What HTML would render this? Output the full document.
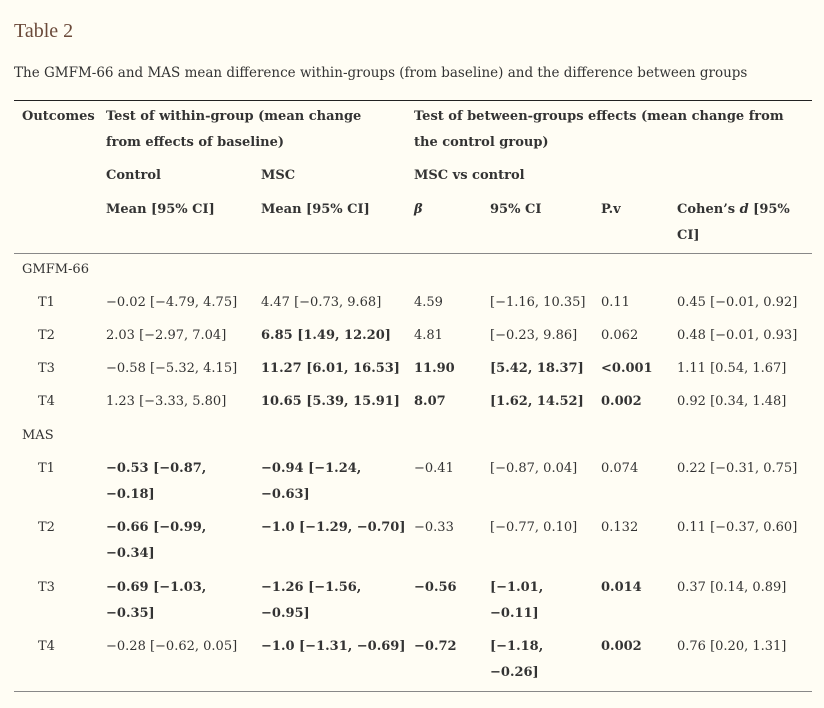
<!DOCTYPE html><html><head><style>
body{margin:0;background:#fffdf4;width:824px;height:708px;overflow:hidden;font-family:"DejaVu Serif","Liberation Serif",serif;color:#333;}
.t{position:absolute;white-space:nowrap;font-size:13px;line-height:16px;}
.b{font-weight:bold;}
.ln{position:absolute;left:14px;width:798px;height:1px;}
</style></head><body>
<div class="t" style="left:14px;top:19px;font-size:20px;line-height:24px;color:#6b4a3a;font-family:'Liberation Serif','DejaVu Serif',serif;">Table 2</div>
<div class="t" style="left:14px;top:65px;font-size:13.5px;">The GMFM-66 and MAS mean difference within-groups (from baseline) and the difference between groups</div>
<div class="ln" style="top:100px;background:#222;"></div>
<div class="ln" style="top:253px;background:#888;"></div>
<div class="ln" style="top:691px;background:#888;"></div>
<div id="c"></div>
<script>
var X=[22,106,261,414,490,601,677];
function p(x,y,s,b){var d=document.createElement('div');d.className='t'+(b?' b':'');d.style.left=x+'px';d.style.top=(y-8)+'px';d.innerHTML=s;document.getElementById('c').appendChild(d);}
p(22,117,'Outcomes',1);p(106,117,'Test of within-group (mean change',1);p(106,143,'from effects of baseline)',1);
p(414,117,'Test of between-groups effects (mean change from',1);p(414,143,'the control group)',1);
p(106,176,'Control',1);p(261,176,'MSC',1);p(414,176,'MSC vs control',1);
p(106,210,'Mean [95% CI]',1);p(261,210,'Mean [95% CI]',1);p(414,210,'<i>β</i>',1);p(490,210,'95% CI',1);p(601,210,'P.v',1);p(677,210,'Cohen’s <i>d</i> [95%',1);p(677,236,'CI]',1);
p(22,270,'GMFM-66');p(22,436,'MAS');
var R=[
[303,['T1','−0.02 [−4.79, 4.75]','4.47 [−0.73, 9.68]','4.59','[−1.16, 10.35]','0.11','0.45 [−0.01, 0.92]'],[0,0,0,0,0,0,0]],
[336,['T2','2.03 [−2.97, 7.04]','6.85 [1.49, 12.20]','4.81','[−0.23, 9.86]','0.062','0.48 [−0.01, 0.93]'],[0,0,1,0,0,0,0]],
[369,['T3','−0.58 [−5.32, 4.15]','11.27 [6.01, 16.53]','11.90','[5.42, 18.37]','&lt;0.001','1.11 [0.54, 1.67]'],[0,0,1,1,1,1,0]],
[402,['T4','1.23 [−3.33, 5.80]','10.65 [5.39, 15.91]','8.07','[1.62, 14.52]','0.002','0.92 [0.34, 1.48]'],[0,0,1,1,1,1,0]],
[469,['T1','−0.53 [−0.87,<br>−0.18]','−0.94 [−1.24,<br>−0.63]','−0.41','[−0.87, 0.04]','0.074','0.22 [−0.31, 0.75]'],[0,1,1,0,0,0,0]],
[528,['T2','−0.66 [−0.99,<br>−0.34]','−1.0 [−1.29, −0.70]','−0.33','[−0.77, 0.10]','0.132','0.11 [−0.37, 0.60]'],[0,1,1,0,0,0,0]],
[588,['T3','−0.69 [−1.03,<br>−0.35]','−1.26 [−1.56,<br>−0.95]','−0.56','[−1.01,<br>−0.11]','0.014','0.37 [0.14, 0.89]'],[0,1,1,1,1,1,0]],
[647,['T4','−0.28 [−0.62, 0.05]','−1.0 [−1.31, −0.69]','−0.72','[−1.18,<br>−0.26]','0.002','0.76 [0.20, 1.31]'],[0,0,1,1,1,1,0]]];
R.forEach(function(r){r[1].forEach(function(s,i){var d=document.createElement('div');d.className='t'+(r[2][i]?' b':'');d.style.left=(i==0?38:X[i])+'px';d.style.top=(r[0]-8)+'px';d.style.lineHeight='26px';d.style.marginTop='-5px';d.innerHTML=s;document.getElementById('c').appendChild(d);});});
</script>
</body></html>
